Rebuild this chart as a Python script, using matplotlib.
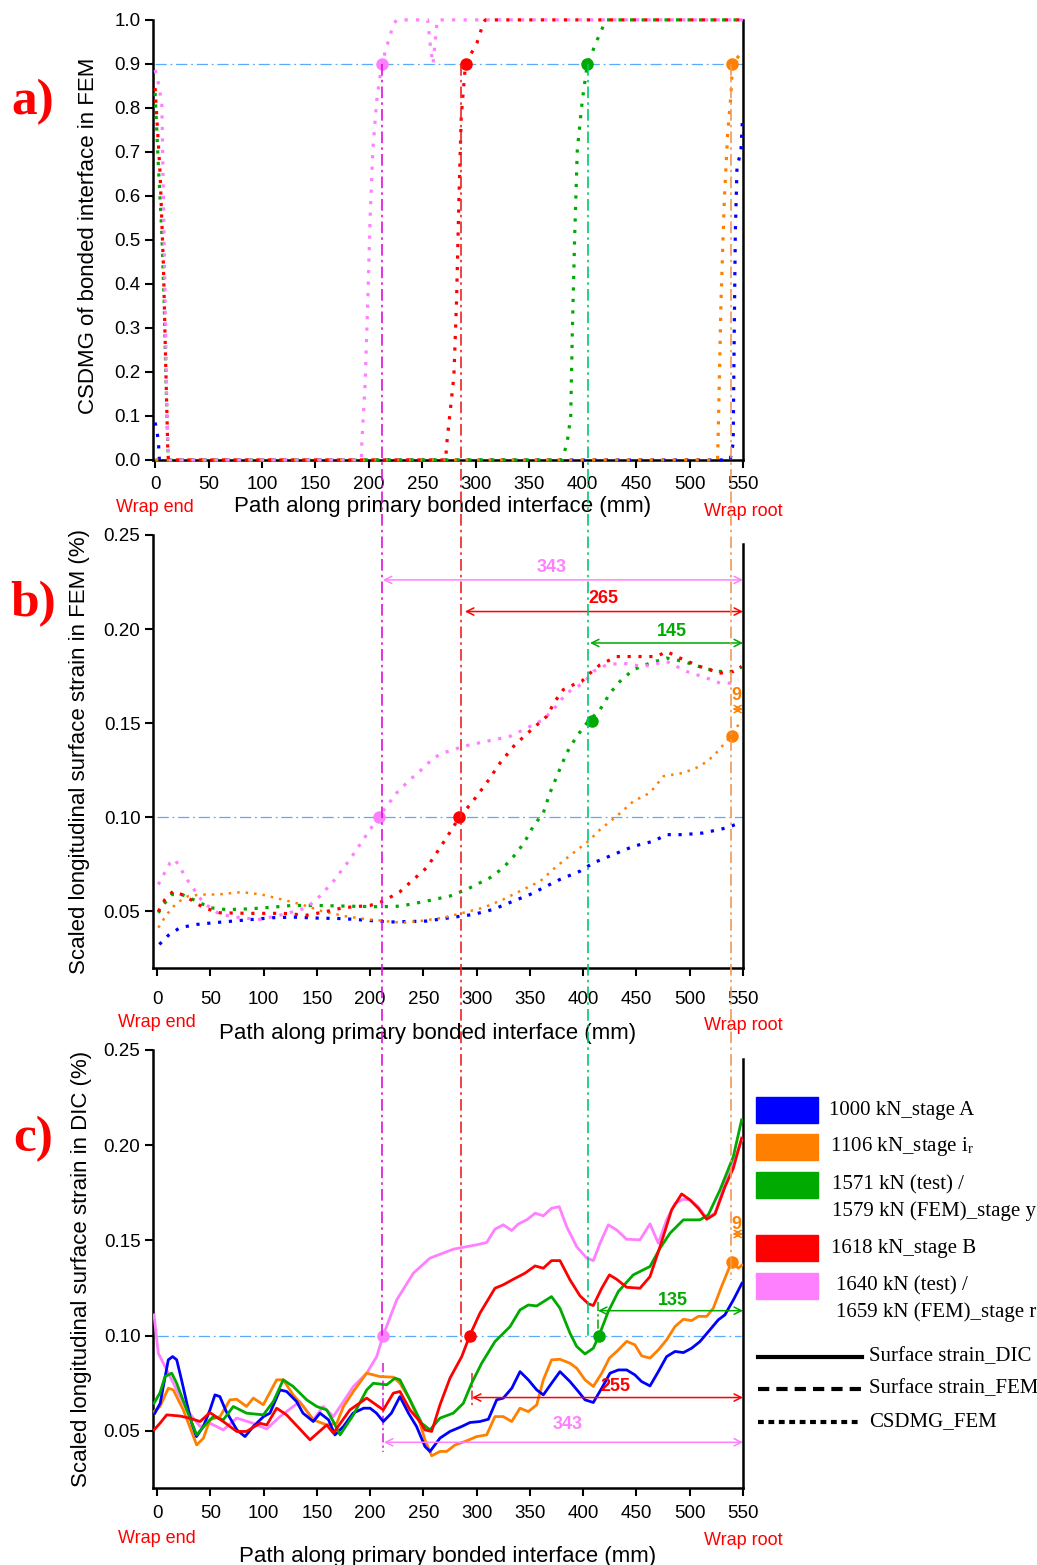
import numpy as np
import matplotlib
matplotlib.use('Agg')
import matplotlib.pyplot as plt
from matplotlib.lines import Line2D
from matplotlib.patches import Rectangle
from matplotlib.ticker import FormatStrFormatter
from matplotlib.transforms import blended_transform_factory

plt.rcParams['font.family'] = ['Liberation Sans', 'DejaVu Sans']
plt.rcParams['mathtext.fontset'] = 'stix'

# ---------------- data (path position in mm, value) ----------------
# a) CSDMG of bonded interface in FEM
a_blue = np.array([(0, 0.085), (1.6, 0.068), (3.1, 0.042), (4, 0.0), (538, 0.0), (540.8, 0.038),
                   (541.8, 0.29), (542.8, 0.515), (544.4, 0.667), (548, 0.70), (549.6, 0.78)])
a_orange = np.array([(0, 0.0), (526.2, 0.0), (526.8, 0.06), (529.4, 0.36), (532.5, 0.59),
                     (535.6, 0.74), (538.7, 0.83), (540.2, 0.9), (548, 0.924), (550, 0.93)])
a_green = np.array([(0, 0.834), (3.1, 0.667), (6.3, 0.515), (8.4, 0.364), (10.3, 0.174), (11.9, 0.03),
                    (12.5, 0.0), (381, 0.0), (385.6, 0.042), (388.8, 0.098), (390.3, 0.288),
                    (392.6, 0.515), (395, 0.705), (399.7, 0.818), (404.4, 0.9), (413.7, 0.955),
                    (420, 0.99), (422, 1.0), (550, 1.0)])
a_red = np.array([(0, 0.845), (4.7, 0.65), (7.8, 0.44), (10, 0.21), (11.9, 0.02), (12.5, 0.0),
                  (271.7, 0.0), (273.2, 0.045), (279.5, 0.19), (282, 0.36), (284.2, 0.59),
                  (286.4, 0.78), (290.4, 0.9), (301, 0.947), (307.5, 0.996), (309, 1.0), (550, 1.0)])
a_pink = np.array([(0, 0.886), (3.1, 0.856), (6.3, 0.81), (7.8, 0.59), (9.4, 0.36), (10.9, 0.136),
                   (11.9, 0.038), (12.5, 0.0), (193, 0.0), (193.4, 0.038), (196.5, 0.174), (199, 0.364),
                   (201.2, 0.553), (203.7, 0.705), (207.4, 0.818), (212.1, 0.9), (216.8, 0.94),
                   (223, 0.99), (226, 1.0), (255, 1.0), (258, 0.93), (260, 0.9), (262, 0.95),
                   (264, 1.0), (550, 1.0)])
a_marks = np.array([(212, 0.9), (290.4, 0.9), (404.4, 0.9), (540, 0.9)])  # pink, red, green, orange

# b) scaled longitudinal surface strain in FEM (%)
b_blue = np.array([(2.2, 0.0325), (10.6, 0.0373), (21.6, 0.0414), (37.2, 0.0431), (52.8, 0.044),
                   (71.6, 0.0449), (90.4, 0.0458), (109.2, 0.0467), (128, 0.047), (149.9, 0.0465),
                   (175, 0.0462), (196.9, 0.0453), (218.8, 0.0444), (253, 0.0449), (275, 0.0467),
                   (296.9, 0.0484), (315.6, 0.0511), (334.4, 0.0555), (350, 0.059), (362.6, 0.0626),
                   (378.2, 0.067), (397, 0.0714), (409.5, 0.0758), (428.3, 0.0802), (447, 0.0846),
                   (465.8, 0.0873), (478.3, 0.0908), (494, 0.0908), (512.7, 0.0917), (534.6, 0.0944),
                   (547.2, 0.0971)])
b_orange = np.array([(1.2, 0.0414), (9.1, 0.0484), (18.5, 0.0546), (29.4, 0.0582), (41.9, 0.059),
                     (57.5, 0.059), (79.4, 0.0603), (98.2, 0.059), (117, 0.0564), (135.8, 0.0537),
                     (154.6, 0.0502), (176.5, 0.0475), (195.3, 0.046), (214, 0.0449), (229.7, 0.044),
                     (246.8, 0.0449), (268.7, 0.0467), (287.5, 0.0493), (306.3, 0.052), (325, 0.0564),
                     (343.8, 0.0617), (359.5, 0.066), (375.1, 0.074), (390.7, 0.0811), (404.9, 0.0873),
                     (415.8, 0.0935), (431.4, 0.1006), (447, 0.1085), (462.7, 0.113), (475.2, 0.1218),
                     (494, 0.1236), (509.6, 0.1271), (522.1, 0.1324), (533, 0.1395), (539.4, 0.1434),
                     (548.7, 0.152)])
b_green = np.array([(1.2, 0.0493), (7.5, 0.0546), (13.8, 0.059), (23.2, 0.059), (37.2, 0.0555),
                    (49.7, 0.052), (65, 0.051), (87, 0.0514), (108.6, 0.0523), (127, 0.0532),
                    (149, 0.0532), (180, 0.0528), (209, 0.0525), (228, 0.0528), (253, 0.0555),
                    (275, 0.0582), (290.7, 0.0617), (312.5, 0.0679), (325, 0.0732), (337.6, 0.0811),
                    (345.4, 0.0873), (353.2, 0.0953), (362.6, 0.1024), (368.8, 0.113), (376.6, 0.1236),
                    (384.5, 0.1342), (393.9, 0.143), (403.3, 0.15), (415.8, 0.1572), (425.2, 0.166),
                    (434.5, 0.1722), (447, 0.1784), (462.7, 0.1819), (478.3, 0.1846), (494, 0.1828),
                    (509.6, 0.18), (525.2, 0.1775), (540.9, 0.1775), (548.7, 0.18)])
b_red = np.array([(1.2, 0.05), (7.5, 0.0564), (15.3, 0.0608), (23.2, 0.059), (34.1, 0.0555),
                  (43.5, 0.052), (59.1, 0.0493), (87, 0.049), (118, 0.049), (140, 0.048),
                  (156, 0.0496), (174.8, 0.052), (200, 0.0532), (212.4, 0.0555), (228, 0.0605),
                  (237.4, 0.0653), (253, 0.0732), (265.6, 0.0838), (276.6, 0.0935), (283.7, 0.1),
                  (295.3, 0.1077), (309.4, 0.1183), (322, 0.1289), (336, 0.1386), (353.2, 0.1474),
                  (365.7, 0.1536), (373.5, 0.1616), (381.3, 0.1678), (390.7, 0.1704), (398.5, 0.1722),
                  (406.4, 0.1766), (415.8, 0.181), (431.4, 0.1854), (453.3, 0.1854), (469, 0.1854),
                  (478.3, 0.1881), (490.8, 0.1846), (509.6, 0.1801), (528.4, 0.1766), (540.9, 0.1775),
                  (548.7, 0.1801)])
b_pink = np.array([(1.2, 0.0643), (12.2, 0.0758), (16.9, 0.0776), (29.4, 0.066), (43.5, 0.0546),
                   (59.1, 0.0484), (77.9, 0.0467), (96.7, 0.0458), (118.5, 0.0484), (140.5, 0.052),
                   (153, 0.0582), (165.5, 0.066), (181, 0.0776), (200, 0.0935), (207.7, 0.1),
                   (225, 0.113), (237.4, 0.12), (250, 0.1262), (259.4, 0.1315), (268.7, 0.1342),
                   (287.5, 0.1377), (309.4, 0.1404), (331.3, 0.143), (347, 0.1474), (362.6, 0.1519),
                   (372, 0.1572), (384.5, 0.166), (400, 0.1713), (409.5, 0.1775), (422, 0.181),
                   (437.6, 0.1819), (456.4, 0.1801), (478.3, 0.1828), (497, 0.1775), (515.9, 0.174),
                   (528.4, 0.1713), (537.7, 0.1713), (545.5, 0.173)])
b_marks = np.array([(208, 0.100), (283.5, 0.100), (408, 0.151), (539.4, 0.1434)])

# c) scaled longitudinal surface strain in DIC (%)
c_blue = np.array([(-2, 0.0593), (3, 0.0645), (10.6, 0.0873), (14.7, 0.089), (18.5, 0.0873),
                   (23, 0.0768), (28, 0.0645), (32.6, 0.054), (37, 0.047), (43.5, 0.0523),
                   (49.7, 0.061), (54.4, 0.0689), (59, 0.068), (65, 0.0601), (75, 0.0505),
                   (82.6, 0.047), (90.4, 0.0523), (100, 0.0575), (106, 0.0593), (115.4, 0.0715),
                   (121.6, 0.0707), (131, 0.0654), (137, 0.0593), (146.7, 0.0549), (153, 0.0593),
                   (161, 0.0558), (167, 0.0479), (175, 0.0523), (184, 0.0593), (194, 0.0619),
                   (200, 0.0619), (206, 0.0593), (212.4, 0.0549), (220, 0.0593), (228, 0.068),
                   (236, 0.0593), (243.6, 0.0523), (251.5, 0.0418), (256.2, 0.0392), (265.6, 0.0462),
                   (275, 0.0497), (286, 0.0523), (293.8, 0.0544), (303, 0.0549), (311, 0.0561),
                   (318.8, 0.0663), (325, 0.0672), (333, 0.0724), (340.7, 0.0811), (348.5, 0.0768),
                   (356.4, 0.0715), (362.6, 0.0689), (370.3, 0.075), (378.2, 0.0811), (387.6, 0.0759),
                   (395.4, 0.0707), (401.7, 0.0663), (409.5, 0.0649), (417.4, 0.0724), (425.2, 0.0803),
                   (433, 0.082), (440.8, 0.082), (448.5, 0.0794), (454.8, 0.0759), (462.7, 0.0736),
                   (470.5, 0.0811), (478.3, 0.089), (486.2, 0.0917), (494, 0.0911), (501.8, 0.0934),
                   (509.6, 0.0969), (519, 0.1031), (526.8, 0.1083), (533, 0.1109), (541, 0.1188),
                   (549, 0.1275)])
c_orange = np.array([(-2.8, 0.0601), (2.8, 0.0628), (10.6, 0.0724), (15.3, 0.0715), (24.7, 0.061),
                     (37.2, 0.0426), (43.5, 0.0461), (49.7, 0.0558), (59.1, 0.0575), (68.5, 0.0663),
                     (74.8, 0.0666), (84, 0.0628), (90.4, 0.0672), (99.8, 0.0637), (112.3, 0.0768),
                     (118.5, 0.0768), (127.8, 0.0689), (137.3, 0.0628), (146.7, 0.0558), (159.3, 0.0531),
                     (168.7, 0.054), (175, 0.0628), (184.3, 0.0707), (196.8, 0.0803), (209.3, 0.0785),
                     (221.8, 0.0782), (228, 0.075), (237.4, 0.0663), (246.8, 0.054), (251.5, 0.0453),
                     (257.8, 0.0369), (265.6, 0.0392), (271.9, 0.0392), (279.7, 0.0426), (289, 0.0444),
                     (300, 0.047), (309.4, 0.0479), (317.2, 0.0575), (325, 0.0575), (332.9, 0.0549),
                     (340.7, 0.0619), (348.5, 0.0601), (356.4, 0.0637), (362.6, 0.0768), (370.3, 0.0873),
                     (378.2, 0.0876), (387.6, 0.0855), (393.9, 0.0829), (401.7, 0.0768), (409.5, 0.0733),
                     (417.4, 0.0803), (424.6, 0.0882), (433, 0.0925), (440.8, 0.097), (448.5, 0.0952),
                     (454.8, 0.0894), (462.7, 0.0882), (470.5, 0.0925), (478.3, 0.0978), (486.2, 0.1048),
                     (494, 0.1086), (501.8, 0.1079), (508, 0.1101), (515.9, 0.1101), (522.1, 0.1144),
                     (529.9, 0.1258), (539.4, 0.1389), (545.6, 0.1354), (549, 0.137)])
c_green = np.array([(-2.8, 0.0645), (2.8, 0.070), (7.5, 0.0785), (13.8, 0.0803), (18.5, 0.075),
                    (27.9, 0.061), (37.2, 0.0479), (46.6, 0.054), (52.8, 0.0575), (62.2, 0.0558),
                    (71.6, 0.0628), (84, 0.0593), (99.8, 0.0584), (109.2, 0.0654), (118.5, 0.0768),
                    (127.8, 0.0733), (140.5, 0.0663), (149.9, 0.0628), (159.3, 0.061), (165.5, 0.0549),
                    (171.8, 0.0479), (184.3, 0.0584), (196.8, 0.0715), (203, 0.075), (215.6, 0.0742),
                    (223.4, 0.0777), (228, 0.0768), (237.4, 0.0663), (248.4, 0.054), (256.2, 0.0505),
                    (265.6, 0.0567), (278.1, 0.0593), (287.5, 0.0645), (295.3, 0.075), (304.7, 0.0855),
                    (317.2, 0.0969), (331.3, 0.1047), (340.7, 0.1135), (348.5, 0.1161), (356.4, 0.1156),
                    (370.3, 0.1205), (378.2, 0.1144), (387.6, 0.1013), (393.9, 0.0943), (401.7, 0.0904),
                    (409.5, 0.0934), (415.1, 0.1004), (423.6, 0.1127), (433, 0.1232), (447, 0.1319),
                    (462.7, 0.1363), (472.1, 0.1459), (481.5, 0.1538), (494, 0.1608), (509.6, 0.1608),
                    (517.4, 0.1634), (528.4, 0.1765), (540.9, 0.194), (548.7, 0.2133)])
c_red = np.array([(-2.8, 0.0505), (2.8, 0.054), (9.1, 0.0584), (21.6, 0.0578), (31, 0.0566),
                  (40.4, 0.0549), (49.7, 0.0596), (62.2, 0.0549), (74.8, 0.0497), (84, 0.0497),
                  (96.7, 0.054), (103, 0.0531), (112.3, 0.0619), (121.6, 0.0584), (143.6, 0.0453),
                  (159.3, 0.0531), (165.5, 0.0488), (181, 0.061), (196.8, 0.0672), (212.4, 0.061),
                  (221.8, 0.0698), (228, 0.0707), (237.4, 0.061), (246.8, 0.0549), (251.5, 0.0505),
                  (257.8, 0.0497), (265.6, 0.0637), (275, 0.0777), (286, 0.089), (293.8, 0.1004),
                  (303.1, 0.1118), (317.2, 0.1249), (325, 0.1267), (334.4, 0.1296), (345.4, 0.1328),
                  (354.8, 0.1366), (362.6, 0.1354), (370.3, 0.1394), (378.2, 0.1394), (387.6, 0.1293),
                  (397, 0.1209), (404.9, 0.1167), (409.5, 0.1158), (417.4, 0.1249), (424.6, 0.1319),
                  (431.4, 0.1296), (440.8, 0.1254), (453.3, 0.1249), (462.7, 0.131), (472.1, 0.1467),
                  (483, 0.166), (492.4, 0.1744), (500.2, 0.1713), (508, 0.1669), (515.9, 0.1611),
                  (523.7, 0.1638), (533.1, 0.1782), (540.9, 0.1879), (548.7, 0.2037)])
c_pink = np.array([(-2.8, 0.1109), (1.2, 0.0908), (9.1, 0.082), (18.5, 0.0715), (27.9, 0.061),
                   (40.4, 0.0523), (49.7, 0.054), (62.2, 0.0505), (74.8, 0.0567), (90, 0.054),
                   (103, 0.051), (115.4, 0.0575), (134, 0.0654), (146.7, 0.0558), (156, 0.0628),
                   (165.5, 0.0575), (175, 0.0654), (184.3, 0.0733), (196.8, 0.0803), (206.2, 0.089),
                   (212.4, 0.1004), (225, 0.1188), (240.6, 0.1328), (256.2, 0.1407), (278.1, 0.1454),
                   (300, 0.1477), (309.4, 0.1489), (317.2, 0.1559), (325, 0.1582), (332.9, 0.1552),
                   (339.1, 0.1586), (347, 0.1608), (355, 0.1643), (362.6, 0.1629), (370.3, 0.1669),
                   (377.5, 0.1677), (384.5, 0.1572), (393.9, 0.1467), (403.3, 0.1407), (409.5, 0.1394),
                   (415.8, 0.1485), (423.6, 0.1582), (431.4, 0.1555), (440.8, 0.1506), (453.3, 0.1503),
                   (462.7, 0.1587), (470.5, 0.1485), (478.3, 0.1608), (486.2, 0.1695), (494, 0.1716),
                   (500, 0.1713), (508, 0.1677), (515.9, 0.1616), (523.7, 0.1643), (533.1, 0.18),
                   (540.9, 0.1905), (548.7, 0.2028)])
c_marks = np.array([(212.4, 0.100), (293.8, 0.100), (415, 0.100), (539.4, 0.1389)])

# debonded lengths measured to the wrap root (mm): start x, arrow y, label x, label y
b_spans_label = ['343', '265', '145', '9']
b_spans = np.array([(212, 0.2261, 370.4, 0.2327), (289, 0.2093, 418.6, 0.216),
                    (406.4, 0.1926, 483, 0.1986), (540, 0.1575, 544, 0.1645)])
c_spans_label = ['343', '255', '135', '9']
c_spans = np.array([(213, 0.0440, 385.7, 0.0536), (295.6, 0.0675, 429.8, 0.0735),
                    (413.9, 0.1131, 483.8, 0.1187), (540, 0.1534, 543.4, 0.1586)])
c_ticks = np.array([(212.4, 0.0856, 0.0389), (295.6, 0.0804, 0.0626), (414, 0.1178, 0.1012)])

# critical positions (threshold crossings) shared by the three panels
crit_x = [211.2, 285.3, 404.5, 538.7]
crit_end_c = [0.100, 0.096, 0.099, 0.129]

stage_labels = ['1000 kN_stage A', '1106 kN_stage i$_\\mathregular{r}$',
                '1571 kN (test) /\n1579 kN (FEM)_stage y', '1618 kN_stage B',
                '1640 kN (test) /\n1659 kN (FEM)_stage r']
stage_colors = ['#0000ff', '#ff8000', '#00aa00', '#ff0000', '#ff80ff']
crit_colors = ['#dd11dd', '#ee2222', '#00c870', '#f09a5a']  # pink, red, green, orange stages
ref_blue = '#5aaaff'
style_labels = ['Surface strain_DIC', 'Surface strain_FEM', 'CSDMG_FEM']
style_dashes = ['-', (0, (2.7, 1.7)), (0, (1.4, 1.1))]

# ---------------- figure ----------------
fig = plt.figure(figsize=(10.37, 15.65), dpi=100)
ax_a = fig.add_axes([0.1475, 0.7061, 0.5690, 0.2812])
ax_b = fig.add_axes([0.1475, 0.3815, 0.5690, 0.2767])
ax_c = fig.add_axes([0.1475, 0.0492, 0.5690, 0.2799])


def style_axes(ax, xlim, ylim, yticks, yfmt, right_top, xpad):
    ax.set_xlim(*xlim)
    ax.set_ylim(*ylim)
    ax.set_xticks(np.arange(0, 551, 50))
    ax.set_yticks(yticks)
    ax.yaxis.set_major_formatter(FormatStrFormatter(yfmt))
    ax.spines['top'].set_visible(False)
    for s in ['left', 'bottom', 'right']:
        ax.spines[s].set_linewidth(1.8)
    ax.spines['right'].set_bounds(ylim[0], right_top)
    ax.tick_params(direction='out', length=6, width=1.5, labelsize=13.5, pad=3)
    ax.tick_params(axis='x', pad=xpad)


style_axes(ax_a, (-2, 550), (0, 1.0), np.arange(0, 1.01, 0.1), '%.1f', 1.0, 5.5)
style_axes(ax_b, (-3.8, 550), (0.02, 0.25), [0.05, 0.10, 0.15, 0.20, 0.25], '%.2f', 0.245, 10.5)
style_axes(ax_c, (-3.8, 550), (0.02, 0.25), [0.05, 0.10, 0.15, 0.20, 0.25], '%.2f', 0.245, 6.5)

# horizontal threshold lines
ax_a.plot([0, 550], [0.9, 0.9], color=ref_blue, lw=0.9, ls=(0, (9, 3, 1.5, 3)), zorder=1)
ax_b.plot([0, 550], [0.10, 0.10], color=ref_blue, lw=0.9, ls=(0, (9, 3, 1.5, 3)), zorder=1)
ax_c.plot([0, 548], [0.10, 0.10], color=ref_blue, lw=0.9, ls=(0, (9, 3, 1.5, 3)), zorder=1)

mark_colors = [stage_colors[4], stage_colors[3], stage_colors[2], stage_colors[1]]

# a) CSDMG
order = [0, 1, 2, 4, 3]
a_series = [a_blue, a_orange, a_green, a_red, a_pink]
for i in order:
    d = a_series[i]
    ax_a.plot(d[:, 0], d[:, 1], color=stage_colors[i], lw=2.3, ls=(0, (1, 2.6)), clip_on=False, zorder=3)
for (x, y), col in zip(a_marks, mark_colors):
    ax_a.plot(x, y, 'o', ms=8, color=col, zorder=5)

# b) FEM surface strain
b_series = [b_blue, b_orange, b_green, b_red, b_pink]
b_lw = [2.3, 1.8, 2.3, 2.3, 2.3]
for i in order:
    d = b_series[i]
    ax_b.plot(d[:, 0], d[:, 1], color=stage_colors[i], lw=b_lw[i], ls=(0, (1, 2.4)), zorder=3)
for (x, y), col in zip(b_marks, mark_colors):
    ax_b.plot(x, y, 'o', ms=8, color=col, zorder=5)

# c) DIC surface strain
c_series = [c_blue, c_orange, c_green, c_red, c_pink]
for i in [4, 1, 0, 2, 3]:
    d = c_series[i]
    ax_c.plot(d[:, 0], d[:, 1], color=stage_colors[i], lw=2.0, zorder=3)
for (x, y), col in zip(c_marks, mark_colors):
    ax_c.plot(x, y, 'o', ms=8, color=col, zorder=5)
for (x, y0, y1), col in zip(c_ticks, [crit_colors[0], crit_colors[1], stage_colors[2]]):
    ax_c.plot([x, x], [y0, y1], color=col, lw=1.1, ls=(0, (6, 2, 1.5, 2)), zorder=2)

# span arrows
for ax, spans, labels in [(ax_b, b_spans, b_spans_label), (ax_c, c_spans, c_spans_label)]:
    for (x0, y, tx, ty), lab, col in zip(spans, labels, mark_colors):
        ax.annotate('', xy=(550, y), xytext=(x0, y),
                    arrowprops=dict(arrowstyle='<->', color=col, lw=1.1, shrinkA=0, shrinkB=0,
                                    mutation_scale=13), zorder=4)
        ax.text(tx, ty, lab, color=col, fontsize=13, fontweight='bold', ha='center', va='center')

# vertical lines through all panels
trans = blended_transform_factory(ax_b.transData, fig.transFigure)
inv = fig.transFigure.inverted()
y_top = inv.transform(ax_a.transData.transform((0, 0.9)))[1]
for x, yc, col in zip(crit_x, crit_end_c, crit_colors):
    y_bot = inv.transform(ax_c.transData.transform((0, yc)))[1]
    fig.add_artist(Line2D([x, x], [y_top, y_bot], transform=trans, color=col, lw=1.2,
                          ls=(0, (7, 2.5, 1.5, 2.5)), zorder=2))

# axis labels
ax_a.set_ylabel('CSDMG of bonded interface in FEM', fontsize=16)
ax_b.set_ylabel('Scaled longitudinal surface strain in FEM (%)', fontsize=16)
ax_c.set_ylabel('Scaled longitudinal surface strain in DIC (%)', fontsize=16)
for ax in (ax_a, ax_b, ax_c):
    ax.set_xlabel('Path along primary bonded interface (mm)', fontsize=16)
ax_a.yaxis.set_label_coords(-0.091, 0.51)
ax_b.yaxis.set_label_coords(-0.107, 0.5)
ax_c.yaxis.set_label_coords(-0.1025, 0.5)
ax_a.xaxis.set_label_coords(0.4915, -0.082)
ax_b.xaxis.set_label_coords(0.466, -0.127)
ax_c.xaxis.set_label_coords(0.50, -0.132)

# wrap end / wrap root
for ax, ye, yr in [(ax_a, -0.109, -0.116), (ax_b, -0.127, -0.132), (ax_c, -0.115, -0.119)]:
    tr = blended_transform_factory(ax.transData, ax.transAxes)
    ax.text(0, ye, 'Wrap end', transform=tr, color='#ff0000', fontsize=13, ha='center', va='center')
    ax.text(550, yr, 'Wrap root', transform=tr, color='#ff0000', fontsize=13, ha='center', va='center')

# panel labels
for lab, y in [('a)', 102), ('b)', 604), ('c)', 1139)]:
    fig.text(33 / 1037, 1 - y / 1565, lab, color='#ff0000', fontsize=37, fontweight='bold',
             family='Liberation Serif', ha='center', va='center')

# legend (drawn by hand so that two-line entries keep the swatch on the first line)
W, H = 1037.0, 1565.0
serif = dict(family='Liberation Serif', fontsize=15, va='center', ha='left')
row_y = [1110, 1147, 1185, 1248, 1286]
text_x = [829, 830, 832, 831, 836]
for col, lab, y, tx in zip(stage_colors, stage_labels, row_y, text_x):
    fig.add_artist(Rectangle((756 / W, 1 - (y + 13) / H), 62 / W, 26 / H, transform=fig.transFigure,
                             facecolor=col, edgecolor=col))
    for k, line in enumerate(lab.split('\n')):
        fig.text(tx / W, 1 - (y + 26 * k) / H, line, **serif)
for lab, ls, y in zip(style_labels, style_dashes, [1357, 1389, 1422]):
    fig.add_artist(Line2D([758 / W, 862 / W], [1 - y / H, 1 - y / H], transform=fig.transFigure,
                          color='k', lw=3, ls=ls))
    fig.text(869 / W, 1 - y / H, lab, **serif)

fig.savefig('out.png', dpi=100)
